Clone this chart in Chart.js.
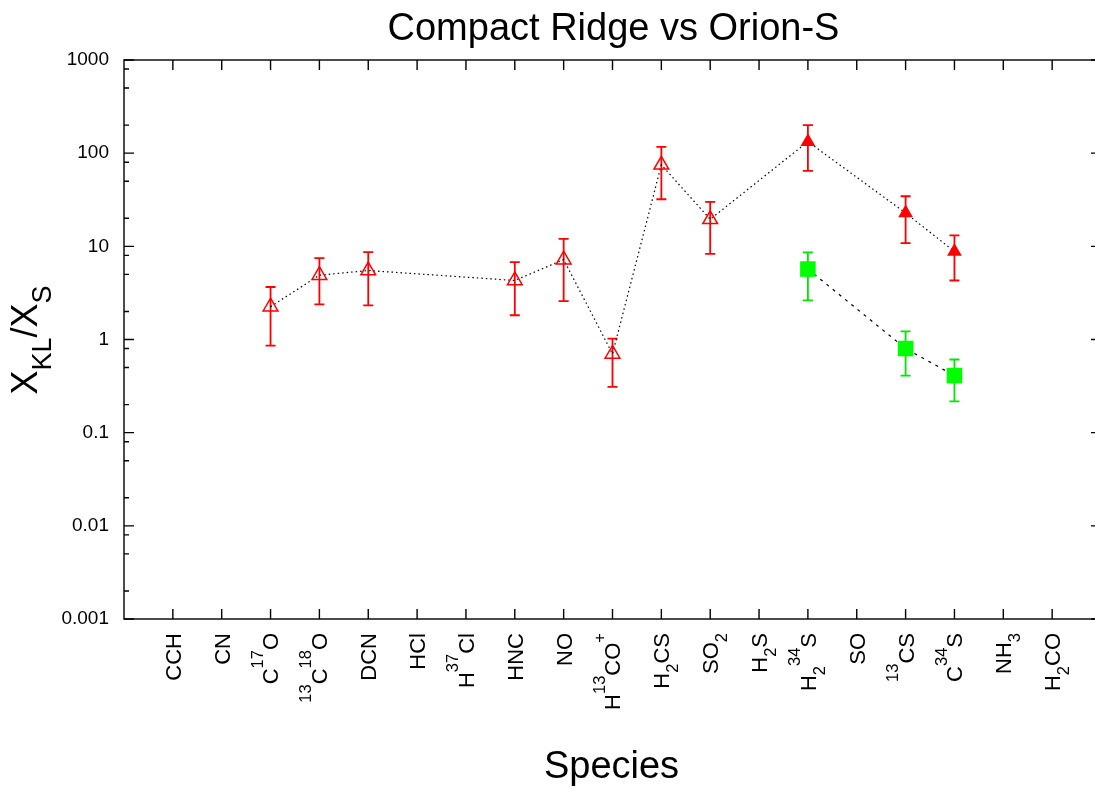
<!DOCTYPE html>
<html>
<head>
<meta charset="utf-8">
<title>Compact Ridge vs Orion-S</title>
<script src="https://cdn.jsdelivr.net/npm/chart.js@4.4.0/dist/chart.umd.min.js"></script>
<style>
  html, body { margin: 0; padding: 0; background: #fff; overflow: hidden; }
  canvas { display: block; }
</style>
</head>
<body>
<canvas id="chart" width="1112" height="793"></canvas>
<script>
'use strict';

// categories (gnuplot-style markup: ^ superscript, _ subscript)
const species = ['CCH', 'CN', 'C^{17}O', '^{13}C^{18}O', 'DCN', 'HCl', 'H^{37}Cl', 'HNC', 'NO',
  'H^{13}CO^+', 'H_2CS', 'SO_2', 'H_2S', 'H_2^{34}S', 'SO', '^{13}CS', 'C^{34}S', 'NH_3', 'H_2CO'];

// red series (open triangles, filled ones at the end)
const redSpecies = ['C^{17}O', '^{13}C^{18}O', 'DCN', 'HNC', 'NO', 'H^{13}CO^+', 'H_2CS', 'SO_2',
  'H_2^{34}S', '^{13}CS', 'C^{34}S'];
const redVal = [2.25, 4.9, 5.5, 4.3, 7.2, 0.7, 75, 19.5, 133, 22.8, 8.8];
const redLo = [0.86, 2.38, 2.32, 1.82, 2.58, 0.31, 32, 8.3, 64.5, 10.8, 4.3];
const redHi = [3.66, 7.48, 8.68, 6.78, 12.0, 1.02, 117, 30, 200, 34.5, 13.1];
const redFilled = [false, false, false, false, false, false, false, false, true, true, true];

// green series (filled squares)
const greenSpecies = ['H_2^{34}S', '^{13}CS', 'C^{34}S'];
const greenVal = [5.7, 0.80, 0.41];
const greenLo = [2.63, 0.41, 0.217];
const greenHi = [8.6, 1.22, 0.61];

// y axis
const yTicks = [0.001, 0.01, 0.1, 1, 10, 100, 1000];
const yMinor = [2, 5, 8];

const FONT = '"Liberation Sans", Arial, Helvetica, sans-serif';

function toPoints(names, val, lo, hi) {
  return names.map((n, i) => ({ x: species.indexOf(n), y: val[i], lo: lo[i], hi: hi[i] }));
}

function parseRich(s) {
  const segs = [];
  let i = 0, buf = '';
  while (i < s.length) {
    const c = s[i];
    if (c === '^' || c === '_') {
      if (buf) { segs.push({ t: buf, m: 0 }); buf = ''; }
      let t;
      if (s[i + 1] === '{') { const j = s.indexOf('}', i + 2); t = s.slice(i + 2, j); i = j + 1; }
      else { t = s[i + 1]; i += 2; }
      segs.push({ t, m: c === '^' ? 1 : -1 });
    } else { buf += c; i++; }
  }
  if (buf) segs.push({ t: buf, m: 0 });
  return segs;
}

function richWidth(ctx, segs, fs) {
  let w = 0;
  segs.forEach((sg) => {
    ctx.font = (sg.m ? fs * 0.75 : fs) + 'px ' + FONT;
    w += ctx.measureText(sg.t).width;
  });
  return w;
}

function drawRich(ctx, segs, fs, x, y) {
  segs.forEach((sg) => {
    ctx.font = (sg.m ? fs * 0.75 : fs) + 'px ' + FONT;
    const dy = sg.m === 1 ? -0.72 * fs : sg.m === -1 ? 0.4 * fs : 0;
    ctx.fillText(sg.t, x, y + dy);
    x += ctx.measureText(sg.t).width;
  });
}

const errorBars = {
  id: 'errorBars',
  beforeDatasetsDraw(chart) {
    const { ctx, scales: { x, y } } = chart;
    chart.data.datasets.forEach((ds) => {
      ctx.save();
      ctx.strokeStyle = ds.errColor;
      ctx.lineWidth = 1.8;
      ds.data.forEach((p) => {
        const px = x.getPixelForValue(p.x);
        const y0 = y.getPixelForValue(p.lo), y1 = y.getPixelForValue(p.hi);
        ctx.beginPath();
        ctx.moveTo(px, y0); ctx.lineTo(px, y1);
        ctx.moveTo(px - 5, y0); ctx.lineTo(px + 5, y0);
        ctx.moveTo(px - 5, y1); ctx.lineTo(px + 5, y1);
        ctx.stroke();
      });
      ctx.restore();
    });
  },
};

const frame = {
  id: 'frame',
  afterDraw(chart) {
    const { ctx, chartArea: a, scales: { x, y } } = chart;
    ctx.save();
    ctx.strokeStyle = '#000';
    ctx.lineWidth = 1.4;
    ctx.strokeRect(a.left, a.top, a.right - a.left, a.bottom - a.top);
    ctx.beginPath();
    species.forEach((s, i) => {
      const px = x.getPixelForValue(i);
      ctx.moveTo(px, a.bottom); ctx.lineTo(px, a.bottom - 10);
      ctx.moveTo(px, a.top); ctx.lineTo(px, a.top + 10);
    });
    yTicks.forEach((v, k) => {
      const py = y.getPixelForValue(v);
      ctx.moveTo(a.left, py); ctx.lineTo(a.left + 10, py);
      ctx.moveTo(a.right, py); ctx.lineTo(a.right - 10, py);
      if (k < yTicks.length - 1) {
        yMinor.forEach((f) => {
          const pm = y.getPixelForValue(v * f);
          ctx.moveTo(a.left, pm); ctx.lineTo(a.left + 5, pm);
          ctx.moveTo(a.right, pm); ctx.lineTo(a.right - 5, pm);
        });
      }
    });
    ctx.stroke();

    ctx.fillStyle = '#000';
    ctx.textAlign = 'left';
    ctx.textBaseline = 'alphabetic';
    const fs = 22;
    species.forEach((s, i) => {
      const segs = parseRich(s);
      const w = richWidth(ctx, segs, fs);
      ctx.save();
      ctx.translate(x.getPixelForValue(i), a.bottom + 14);
      ctx.rotate(-Math.PI / 2);
      drawRich(ctx, segs, fs, -w, 0.36 * fs);
      ctx.restore();
    });

    // y label
    const ySegs = parseRich('X_{KL}/X_{S}');
    const yw = richWidth(ctx, ySegs, 36);
    ctx.save();
    ctx.translate(37, 340);
    ctx.rotate(-Math.PI / 2);
    drawRich(ctx, ySegs, 36, -yw / 2, 0);
    ctx.restore();

    // titles
    ctx.textAlign = 'center';
    ctx.font = '38px ' + FONT;
    ctx.fillText('Compact Ridge vs Orion-S', (a.left + a.right) / 2 + 1, 40);
    ctx.fillText('Species', (a.left + a.right) / 2 - 1, 778);
    ctx.restore();
  },
};

new Chart(document.getElementById('chart'), {
  type: 'scatter',
  data: {
    datasets: [
      {
        data: toPoints(redSpecies, redVal, redLo, redHi),
        showLine: true,
        borderColor: '#000',
        borderWidth: 1.2,
        borderDash: [1.5, 3],
        pointStyle: 'triangle',
        pointRadius: redFilled.map((f) => (f ? 7 : 8.5)),
        pointBackgroundColor: redFilled.map((f) => (f ? '#ff0000' : 'rgba(0,0,0,0)')),
        pointBorderColor: '#ff0000',
        pointBorderWidth: 1.5,
        errColor: '#ff0000',
      },
      {
        data: toPoints(greenSpecies, greenVal, greenLo, greenHi),
        showLine: true,
        borderColor: '#000',
        borderWidth: 1.2,
        borderDash: [3, 5],
        pointStyle: 'rect',
        pointRadius: 11,
        pointBackgroundColor: '#00ff00',
        pointBorderColor: '#00ff00',
        pointBorderWidth: 0,
        errColor: '#00e600',
      },
    ],
  },
  options: {
    responsive: false,
    animation: false,
    events: [],
    layout: { padding: { top: 60, right: 1, left: 0, bottom: 0 } },
    plugins: { legend: { display: false }, tooltip: { enabled: false } },
    scales: {
      x: {
        type: 'linear', min: -1, max: 19,
        grid: { display: false, drawTicks: false }, border: { display: false }, ticks: { display: false },
        afterFit(s) { s.height = 174; },
      },
      y: {
        type: 'logarithmic', min: 0.001, max: 1000,
        grid: { display: false, drawTicks: false }, border: { display: false },
        ticks: { font: { family: FONT, size: 19 }, color: '#000', padding: 15, callback: (v) => String(v) },
        afterBuildTicks(s) { s.ticks = yTicks.map((v) => ({ value: v })); },
        afterFit(s) { s.width = 124; },
      },
    },
  },
  plugins: [errorBars, frame],
});
</script>
</body>
</html>
